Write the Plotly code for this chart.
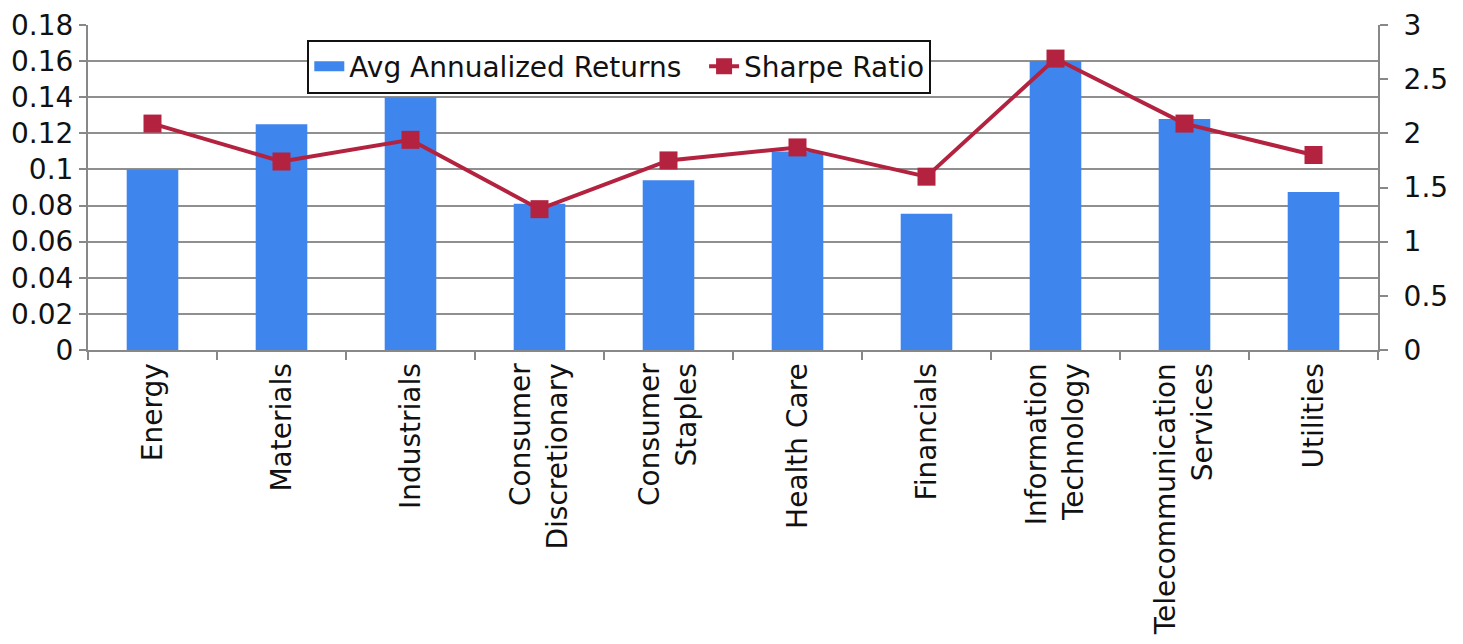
import plotly.graph_objects as go
from plotly.subplots import make_subplots

categories = ["Energy", "Materials", "Industrials", "Consumer<br>Discretionary",
              "Consumer<br>Staples", "Health Care", "Financials",
              "Information<br>Technology", "Telecommunication<br>Services", "Utilities"]
avg_returns = [0.100, 0.125, 0.140, 0.081, 0.094, 0.110, 0.0755, 0.160, 0.128, 0.0875]
sharpe = [2.09, 1.74, 1.94, 1.30, 1.75, 1.87, 1.60, 2.69, 2.09, 1.80]

left_ticks = [0, 0.02, 0.04, 0.06, 0.08, 0.1, 0.12, 0.14, 0.16, 0.18]
left_labels = ["0", "0.02", "0.04", "0.06", "0.08", "0.1", "0.12", "0.14", "0.16", "0.18"]
right_ticks = [0, 0.5, 1, 1.5, 2, 2.5, 3]
right_labels = ["0", "0.5", "1", "1.5", "2", "2.5", "3"]

BLUE = "#3F85EE"
RED = "#B3223F"
FAM = "DejaVu Sans, Liberation Sans, Arial, sans-serif"
FS = 28

fig = make_subplots(specs=[[{"secondary_y": True}]])
fig.add_trace(go.Bar(x=categories, y=avg_returns, name="Avg Annualized Returns",
                     marker=dict(color=BLUE, line=dict(width=0)), showlegend=False),
              secondary_y=False)
# legend entry for the bars (wide rectangle swatch, as in the original)
fig.add_trace(go.Scatter(x=[None], y=[None], name="Avg Annualized Returns\u00a0\u00a0", mode="lines",
                         line=dict(color=BLUE, width=16), hoverinfo="skip"),
              secondary_y=False)
fig.add_trace(go.Scatter(x=categories, y=sharpe, name="Sharpe Ratio", mode="lines+markers",
                         line=dict(color=RED, width=4),
                         marker=dict(symbol="square", size=18, color=RED)),
              secondary_y=True)

fig.update_layout(
    width=1463, height=644,
    margin=dict(l=80, r=93, t=17, b=302),
    plot_bgcolor="white", paper_bgcolor="white",
    font=dict(family=FAM, size=FS, color="#111"),
    bargap=0.6,
    legend=dict(orientation="h", x=0.17, y=0.955, xanchor="left", yanchor="top",
                bordercolor="#111", borderwidth=2, bgcolor="white",
                font=dict(family=FAM, size=FS, color="#111"),
                tracegroupgap=0),
)
fig.update_xaxes(type="category", domain=[0, 1], range=[-0.5, len(categories) - 0.5],
                 showline=True, linecolor="#888", linewidth=2,
                 ticks="outside", tickson="boundaries", ticklen=8, tickcolor="#888",
                 tickwidth=2, tickangle=-90, showgrid=False, automargin=False,
                 tickfont=dict(family=FAM, size=FS, color="#111"))
fig.update_yaxes(range=[0, 0.18], tickvals=left_ticks, ticktext=left_labels,
                 showgrid=True, gridcolor="#8f8f8f", gridwidth=2,
                 showline=True, linecolor="#888", linewidth=2,
                 ticks="outside", ticklen=7, tickcolor="#888", tickwidth=2,
                 zeroline=False, automargin=False,
                 tickfont=dict(family=FAM, size=FS, color="#111"),
                 secondary_y=False)
fig.update_yaxes(range=[0, 3], tickvals=right_ticks, ticktext=right_labels,
                 showgrid=False, showline=True, linecolor="#888", linewidth=2,
                 ticks="outside", ticklen=8, tickcolor="#888", tickwidth=2,
                 ticklabelstandoff=10,
                 zeroline=False, automargin=False,
                 tickfont=dict(family=FAM, size=FS, color="#111"),
                 secondary_y=True)

fig.write_html("out.html")
